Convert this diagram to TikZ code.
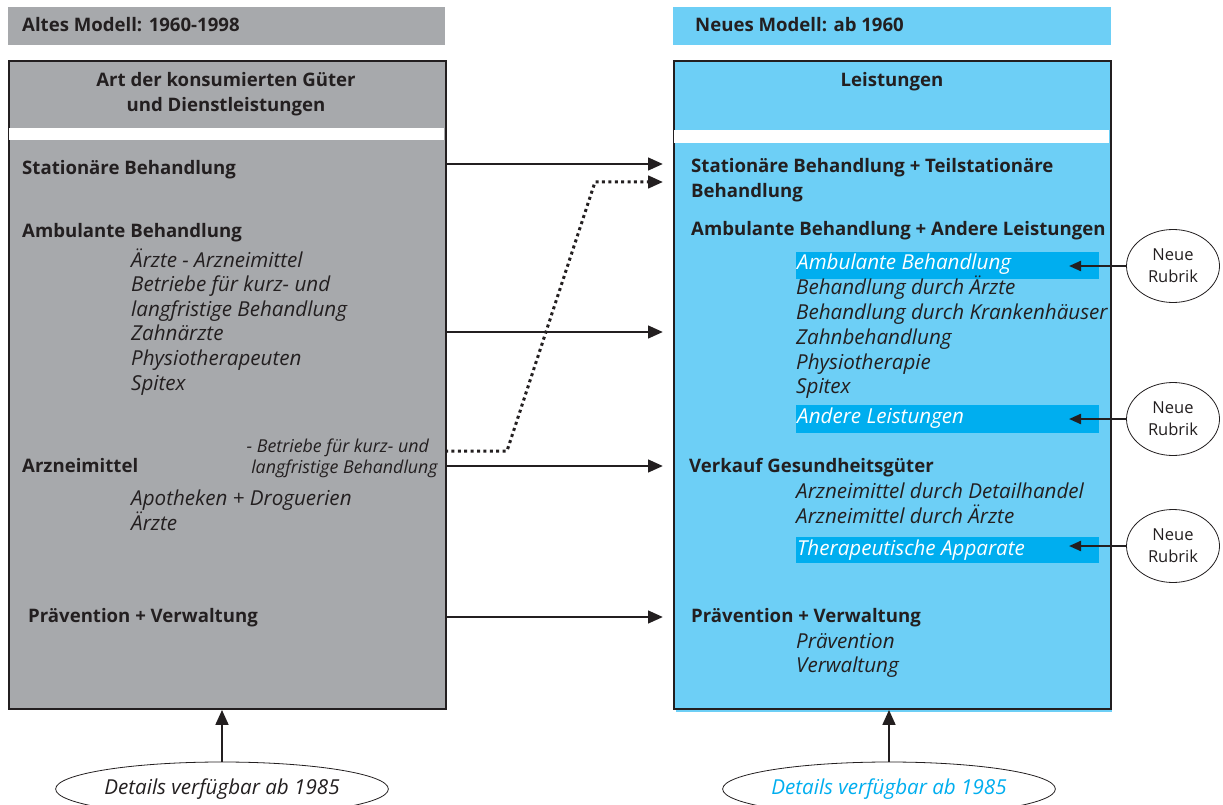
\documentclass[tikz,border=0pt]{standalone}
\usepackage{fontspec}
\setmainfont{Open Sans}
\usetikzlibrary{arrows.meta,shapes.geometric}
\definecolor{greybox}{HTML}{A7A9AC}
\definecolor{cyanbox}{HTML}{6DCFF6}
\definecolor{hlbar}{HTML}{00AEEF}
\definecolor{ink}{HTML}{231F20}
\tikzset{
  boldtxt/.style={font=\fontsize{18.6}{22}\selectfont\bfseries, text=ink, anchor=base west, inner sep=0pt},
  itxt/.style={font=\fontsize{20.6}{24}\selectfont\itshape, text=ink, anchor=base west, inner sep=0pt},
  smallit/.style={font=\fontsize{17.8}{20}\selectfont\itshape, text=ink, anchor=base east, inner sep=0pt},
  titletxt/.style={font=\fontsize{18.6}{22}\selectfont\bfseries, text=ink, anchor=base, inner sep=0pt},
  hltxt/.style={itxt, text=white},
  hlbarfill/.style={fill=hlbar},
  bigarrow/.style={draw=ink, line width=2.9pt, -{Triangle[length=15pt,width=12.5pt]}},
  dotarrow/.style={draw=ink, line width=3pt, dash pattern=on 3pt off 3.4pt, -{Triangle[length=15pt,width=12.5pt]}},
  smallarrow/.style={draw=ink, line width=2.2pt, -{Triangle[length=12pt,width=10pt]}},
  rubrik/.style={ellipse, draw=ink, line width=0.8pt, fill=white, minimum width=93pt, minimum height=73pt, inner sep=0pt,
    align=center, font=\fontsize{16.5}{22}\selectfont, text=ink},
  detail/.style={ellipse, draw=ink, line width=0.8pt, fill=white, minimum width=332pt, minimum height=54pt, inner sep=0pt,
    font=\fontsize{20.6}{24}\selectfont\itshape, text=ink},
}
\begin{document}
\begin{tikzpicture}[x=1pt,y=-1pt]
\useasboundingbox (0,0) rectangle (1223,805);

% header bars
\node (lhead) [fill=greybox, minimum width=437pt, minimum height=38pt, inner sep=0pt, anchor=north west] at (8,7) {};
\node (rhead) [fill=cyanbox, minimum width=438pt, minimum height=38pt, inner sep=0pt, anchor=north west] at (673,7) {};
\node (lheadtxt) [boldtxt] at (22,32) {Altes Modell: 1960-1998};
\node (rheadtxt) [boldtxt] at (695,32) {Neues Modell: ab 1960};

% main boxes
\fill[cyanbox] (676,706) rectangle (1112,712);
\node (lbox) [draw=ink, fill=greybox, line width=1.8pt, minimum width=437pt, minimum height=648pt, inner sep=0pt, anchor=north west] at (8,60) {};
\node (rbox) [draw=ink, fill=cyanbox, line width=1.8pt, minimum width=437pt, minimum height=648pt, inner sep=0pt, anchor=north west] at (673,60) {};
\fill[white] (8.9,128) rectangle (444.1,140);
\fill[white] (673.9,130) rectangle (1109.1,143);

% column titles
\node (ltitle1) [titletxt] at (226,87) {Art der konsumierten Güter};
\node (ltitle2) [titletxt] at (226,112) {und Dienstleistungen};
\node (rtitle) [titletxt] at (892,87) {Leistungen};

% old model categories
\node (lstat) [boldtxt] at (22,175) {Stationäre Behandlung};
\node (lamb)  [boldtxt] at (22,237) {Ambulante Behandlung};
\node (lamb1) [itxt] at (131,267) {Ärzte - Arzneimittel};
\node (lamb2) [itxt] at (131,291) {Betriebe für kurz- und};
\node (lamb3) [itxt] at (131,316) {langfristige Behandlung};
\node (lamb4) [itxt] at (131,340) {Zahnärzte};
\node (lamb5) [itxt] at (131,365) {Physiotherapeuten};
\node (lamb6) [itxt] at (131,390) {Spitex};
\node (lbetr1) [smallit] at (429,452) {- Betriebe für kurz- und};
\node (lbetr2) [smallit] at (438,473) {langfristige Behandlung};
\node (larz)  [boldtxt] at (22,472) {Arzneimittel};
\node (larz1) [itxt] at (131,505) {Apotheken + Droguerien};
\node (larz2) [itxt] at (131,530) {Ärzte};
\node (lprev) [boldtxt] at (28,622) {Prävention + Verwaltung};

% highlighted new headings
\fill[hlbarfill] (796,252) rectangle (1099,279);
\fill[hlbarfill] (796,405) rectangle (1099,433);
\fill[hlbarfill] (796,537) rectangle (1099,563);

% new model categories
\node (rstat)  [boldtxt] at (691,173) {Stationäre Behandlung + Teilstationäre};
\node (rstatb) [boldtxt] at (691,198) {Behandlung};
\node (ramb)   [boldtxt] at (691,236) {Ambulante Behandlung + Andere Leistungen};
\node (ramb0)  [hltxt] at (797,269) {Ambulante Behandlung};
\node (ramb1)  [itxt] at (796,294) {Behandlung durch Ärzte};
\node (ramb2)  [itxt] at (796,319) {Behandlung durch Krankenhäuser};
\node (ramb3)  [itxt] at (796,344) {Zahnbehandlung};
\node (ramb4)  [itxt] at (796,369) {Physiotherapie};
\node (ramb5)  [itxt] at (796,393) {Spitex};
\node (rand)   [hltxt] at (797,423) {Andere Leistungen};
\node (rverk)  [boldtxt] at (689,472) {Verkauf Gesundheitsgüter};
\node (rverk1) [itxt] at (796,498) {Arzneimittel durch Detailhandel};
\node (rverk2) [itxt] at (796,523) {Arzneimittel durch Ärzte};
\node (rther)  [hltxt] at (797,555) {Therapeutische Apparate};
\node (rprev)  [boldtxt] at (691,622) {Prävention + Verwaltung};
\node (rprev1) [itxt] at (796,648) {Prävention};
\node (rprev2) [itxt] at (796,672) {Verwaltung};

% "Neue Rubrik" markers
\node (nr1) [rubrik] at (1173,266) {Neue\\Rubrik};
\node (nr2) [rubrik] at (1173,419) {Neue\\Rubrik};
\node (nr3) [rubrik] at (1173,546) {Neue\\Rubrik};
\coordinate (nr1t) at (1069,266);
\coordinate (nr2t) at (1069,419);
\coordinate (nr3t) at (1069,546);
\draw[smallarrow] (nr1.west) -- (nr1t);
\draw[smallarrow] (nr2.west) -- (nr2t);
\draw[smallarrow] (nr3.west) -- (nr3t);

% mapping arrows old -> new
\coordinate (m1s) at (445,164);
\coordinate (m1e) at (663,164);
\coordinate (m2s) at (445,332);
\coordinate (m2e) at (663,332);
\coordinate (m3s) at (445,466);
\coordinate (m3e) at (663,466);
\coordinate (m4s) at (445,617);
\coordinate (m4e) at (663,617);
\coordinate (d1s) at (445,451);
\coordinate (d1a) at (507,451);
\coordinate (d1b) at (595,182);
\coordinate (d1e) at (663,182);
\draw[bigarrow] (m1s) -- (m1e);
\draw[bigarrow] (m2s) -- (m2e);
\draw[bigarrow] (m3s) -- (m3e);
\draw[bigarrow] (m4s) -- (m4e);
\draw[dotarrow] (d1s) -- (d1a) -- (d1b) -- (d1e);

% detail availability notes
\node (ldet) [detail] at (222,789) {Details verfügbar ab 1985};
\node (rdet) [detail, text=hlbar] at (889,789) {Details verfügbar ab 1985};
\draw[bigarrow] (ldet.north) -- (ldet.north |- lbox.south);
\draw[bigarrow] (rdet.north) -- (rdet.north |- rbox.south);
\end{tikzpicture}
\end{document}
